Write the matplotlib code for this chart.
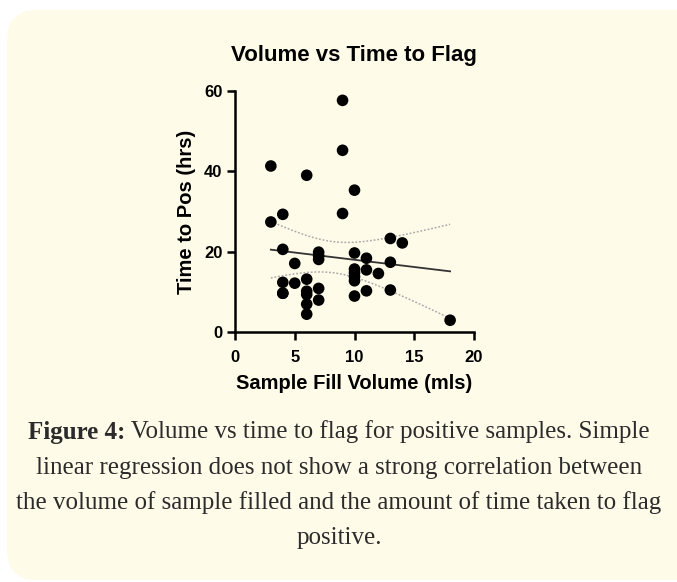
import numpy as np
import matplotlib
matplotlib.use("Agg")
import matplotlib.pyplot as plt
from matplotlib.patches import FancyBboxPatch
from matplotlib.transforms import Affine2D

# data (a few points overlap in the original)
volume = [3, 3, 4, 4, 4, 4, 4, 5, 5, 6, 6, 6, 6, 6, 6, 7, 7, 7, 7, 7,
          9, 9, 9, 10, 10, 10, 10, 10, 10, 10, 11, 11, 11, 12, 13, 13, 13, 14, 18]
time_pos = [41.3, 27.4, 29.3, 20.6, 12.4, 9.7, 9.7, 17.1, 12.2, 39.0, 13.2, 10.2, 9.4, 7.0, 4.5,
            19.9, 19.0, 18.1, 10.9, 8.0, 57.6, 45.2, 29.5, 35.3, 19.7, 15.7, 14.8, 13.8,
            12.8, 9.0, 18.4, 15.5, 10.3, 14.6, 23.3, 17.4, 10.5, 22.2, 3.0]
xticks = [0, 5, 10, 15, 20]
yticks = [0, 20, 40, 60]

caption_bold = "Figure 4:"
caption_lines = [" Volume vs time to flag for positive samples. Simple",
                 "linear regression does not show a strong correlation between",
                 "the volume of sample filled and the amount of time taken to flag",
                 "positive."]

W, H = 677, 582
fig = plt.figure(figsize=(W / 100, H / 100), dpi=100)
fig.patch.set_facecolor("white")

# pale background card (pixel coords)
px = Affine2D().scale(1 / W, 1 / H) + fig.transFigure
card = FancyBboxPatch((7, 2), 700, 570, boxstyle="round,pad=0,rounding_size=30",
                      transform=px, facecolor="#fffbe9", edgecolor="none", zorder=-5)
fig.patches.append(card)

ax = fig.add_axes([235 / W, 1 - 332.3 / H, 239 / W, 241.6 / H])
ax.set_facecolor("none")
ax.set_zorder(2)

x = np.array(volume, dtype=float)
y = np.array(time_pos, dtype=float)

# linear regression + 95% confidence band
slope, icpt = np.polyfit(x, y, 1)
n = len(x)
resid = y - (slope * x + icpt)
s = np.sqrt(np.sum(resid ** 2) / (n - 2))
xl = np.linspace(x.min(), x.max(), 100)
yl = slope * xl + icpt
se = s * np.sqrt(1 / n + (xl - x.mean()) ** 2 / np.sum((x - x.mean()) ** 2))
t = 2.03
ax.plot(xl, yl, color="#333333", lw=1.3, zorder=2)
ax.plot(xl, yl + t * se, color="#aaaaaa", lw=1.1, ls=(0, (1.2, 1.2)), zorder=2)
ax.plot(xl, yl - t * se, color="#aaaaaa", lw=1.1, ls=(0, (1.2, 1.2)), zorder=2)

ax.scatter(x, y, s=70, color="black", edgecolor="none", zorder=3, clip_on=False)

ax.set_xlim(0, 20)
ax.set_ylim(0, 60)
ax.set_xticks(xticks)
ax.set_yticks(yticks)
for side in ["top", "right"]:
    ax.spines[side].set_visible(False)
for side in ["left", "bottom"]:
    ax.spines[side].set_linewidth(1.8)
ax.tick_params(width=1.8, length=6, labelsize=12, pad=3)
ax.tick_params(axis="x", pad=7)
for lab in ax.get_xticklabels() + ax.get_yticklabels():
    lab.set_fontweight("bold")
    lab.set_fontfamily("Liberation Sans")

ax.set_xlabel("Sample Fill Volume (mls)", fontsize=14.5, fontweight="bold",
              family="Liberation Sans", labelpad=6)
ax.set_ylabel("Time to Pos (hrs)", fontsize=14.5, fontweight="bold",
              family="Liberation Sans", labelpad=6)
fig.text(354 / W, 1 - 56 / H, "Volume vs Time to Flag", ha="center", va="center",
         fontsize=16, fontweight="bold", family="Liberation Sans")

# caption
cap_kw = dict(fontsize=18, family="Liberation Serif", color="#2b2b2b", va="center")
ys = [432, 468, 503, 538]
r = fig.canvas.get_renderer()
tb = fig.text(0, 0, caption_bold, fontweight="bold", **cap_kw)
tn = fig.text(0, 0, caption_lines[0], **cap_kw)
wb = tb.get_window_extent(r).width
wn = tn.get_window_extent(r).width
x0 = (339 - (wb + wn) / 2)
tb.set_position((x0 / W, 1 - ys[0] / H))
tn.set_position(((x0 + wb) / W, 1 - ys[0] / H))
for line, yy in zip(caption_lines[1:], ys[1:]):
    fig.text(339 / W, 1 - yy / H, line, ha="center", **cap_kw)

fig.savefig("out.png", dpi=100)
